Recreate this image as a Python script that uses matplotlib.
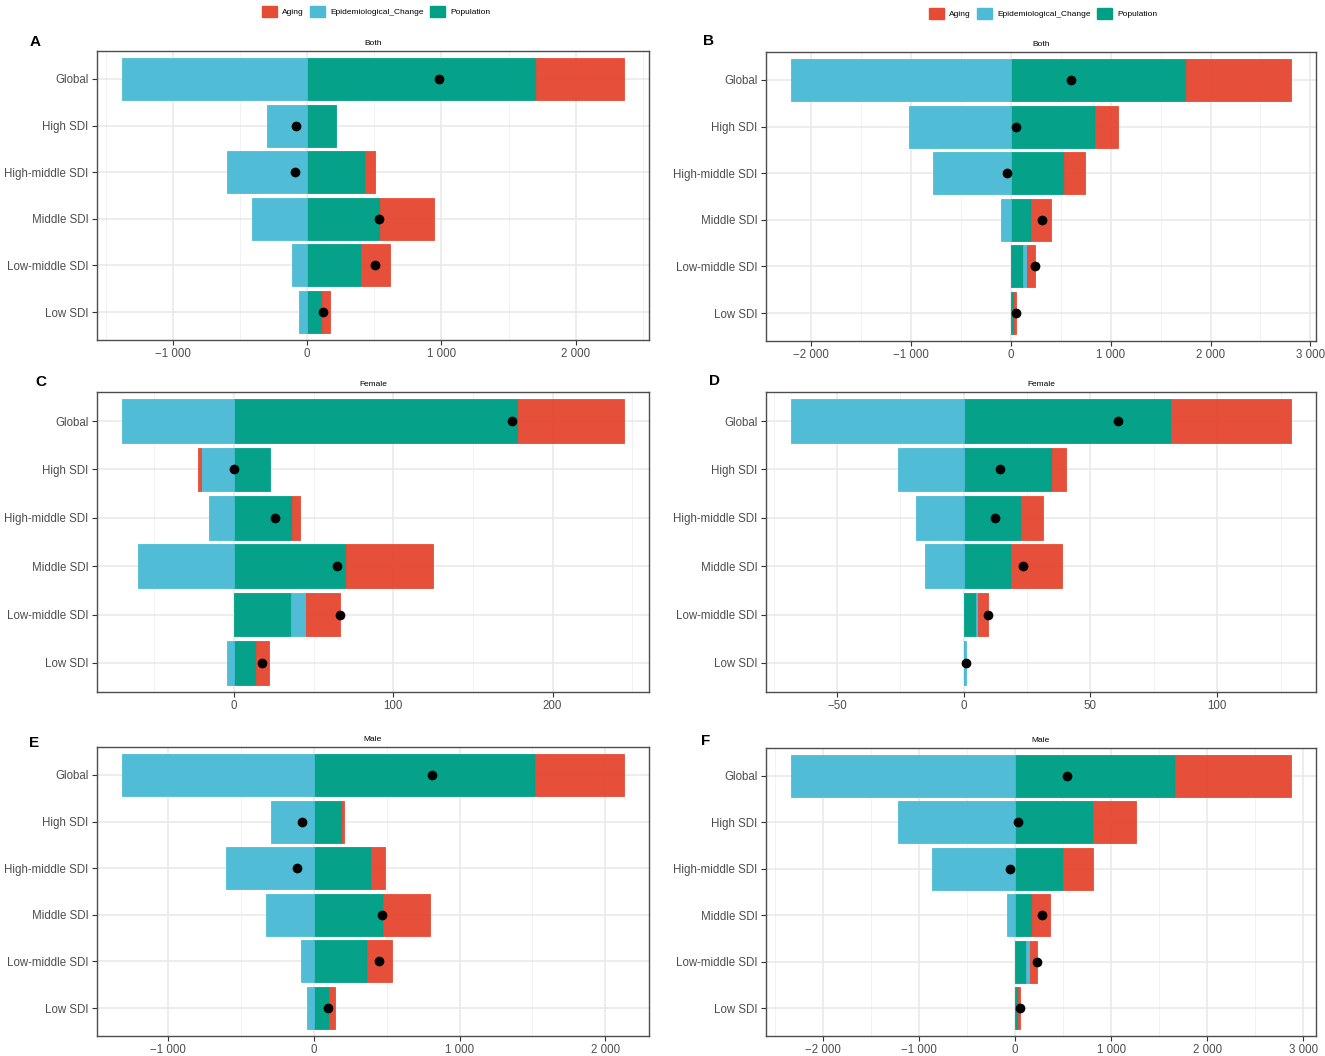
import numpy as np
import matplotlib
matplotlib.use("Agg")
import matplotlib.pyplot as plt
from matplotlib.patches import Patch
from matplotlib.ticker import MultipleLocator, FuncFormatter

plt.rcParams["font.family"] = ["Liberation Sans", "DejaVu Sans"]

regions = ["Global", "High SDI", "High-middle SDI", "Middle SDI", "Low-middle SDI", "Low SDI"]
factors = ["Aging", "Epidemiological_Change", "Population"]
colors = {"Aging": "#E64B35", "Epidemiological_Change": "#4DBBD5", "Population": "#00A087"}

# panel A: Both (left)
a_pop = [1704, 213, 428, 541, 403, 110]
a_epi = [-1377, -299, -594, -409, -110, -57]
a_aging = [654, 0, 75, 402, 216, 63]

# panel B: Both (right)
b_pop = [1759, 844, 527, 198, 122, 30]
b_epi = [-2203, -1021, -785, -97, 38, 0]
b_aging = [1047, 228, 216, 207, 85, 25]

# panel C: Female (left)
c_pop = [178.5, 22.8, 36.1, 70.6, 35.5, 13.5]
c_epi = [-70.3, -21.0, -15.6, -60.2, 9.6, -4.2]
c_aging = [66.3, -1.8, 5.0, 54.3, 21.5, 8.3]

# panel D: Female (right)
d_pop = [81.9, 35.0, 22.8, 18.6, 4.8, 0.3]
d_epi = [-68.1, -25.9, -18.8, -15.4, 0.8, 0.8]
d_aging = [47.2, 5.3, 8.5, 20.3, 3.8, 0.0]

# panel E: Male (left)
e_pop = [1519, 191, 394, 472, 365, 101]
e_epi = [-1316, -293, -603, -328, -90, -46]
e_aging = [609, 18, 96, 325, 171, 44]

# panel F: Male (right)
f_pop = [1667, 816, 504, 180, 118, 35]
f_epi = [-2333, -1224, -864, -79, 40, 0]
f_aging = [1206, 443, 307, 180, 74, 20]


def fmt(v, pos):
    s = f"{abs(v):,.0f}".replace(",", " ")
    return ("\u2212" + s) if v < 0 else s


def draw_panel(ax, pop, epi, aging, title, step):
    y = np.arange(len(regions))
    pos_left = np.zeros(len(regions))
    neg_left = np.zeros(len(regions))
    # ggplot stacking: Population nearest zero, then Epi, then Aging
    for name, vals in [("Population", pop), ("Epidemiological_Change", epi), ("Aging", aging)]:
        vals = np.array(vals, dtype=float)
        left = np.where(vals >= 0, pos_left, neg_left)
        keep = vals != 0
        ax.barh(y[keep], vals[keep], left=left[keep], height=0.9, color=colors[name],
                edgecolor=colors[name], linewidth=0.6, alpha=0.98, zorder=3)
        pos_left = pos_left + np.where(vals >= 0, vals, 0)
        neg_left = neg_left + np.where(vals < 0, vals, 0)
    total = np.array(pop) + np.array(epi) + np.array(aging)
    ax.plot(total, y, "o", color="black", markersize=6, zorder=4)

    lo = min(neg_left.min(), 0)
    hi = max(pos_left.max(), 0)
    pad = (hi - lo) * 0.05
    ax.set_xlim(lo - pad, hi + pad)
    ax.set_ylim(len(regions) - 0.4, -0.6)

    ax.set_yticks(y)
    ax.set_yticklabels(regions)
    ax.xaxis.set_major_locator(MultipleLocator(step))
    ax.xaxis.set_minor_locator(MultipleLocator(step / 2))
    ax.xaxis.set_major_formatter(FuncFormatter(fmt))
    ax.grid(True, which="major", color="#E8E8E8", linewidth=1.1, zorder=0)
    ax.grid(True, which="minor", axis="x", color="#F0F0F0", linewidth=0.6, zorder=0)
    ax.set_axisbelow(True)
    ax.tick_params(axis="both", which="major", labelsize=8.3, labelcolor="#4D4D4D",
                   color="#333333", length=3.5, width=0.8, pad=2.5)
    ax.tick_params(axis="x", which="minor", length=0)
    for sp in ax.spines.values():
        sp.set_color("#4D4D4D")
        sp.set_linewidth(1.0)
    ax.set_title(title, fontsize=6, pad=4)


W, H = 1325, 1056
fig = plt.figure(figsize=(W / 100, H / 100), dpi=100)


def add_ax(l, r, t, b):
    return fig.add_axes([l / W, 1 - b / H, (r - l) / W, (b - t) / H])


panels = [
    (add_ax(97, 649, 51, 340), a_pop, a_epi, a_aging, "Both", "A", 1000, (35, 42)),
    (add_ax(766, 1316, 52, 341), b_pop, b_epi, b_aging, "Both", "B", 1000, (709, 41)),
    (add_ax(97, 649, 392, 692), c_pop, c_epi, c_aging, "Female", "C", 100, (41, 382)),
    (add_ax(766, 1316, 392, 692), d_pop, d_epi, d_aging, "Female", "D", 50, (714, 381)),
    (add_ax(97, 649, 747, 1036), e_pop, e_epi, e_aging, "Male", "E", 1000, (34, 743)),
    (add_ax(766, 1316, 748, 1036), f_pop, f_epi, f_aging, "Male", "F", 1000, (706, 741)),
]
for ax, pop, epi, aging, title, letter, step, (lx, ly) in panels:
    draw_panel(ax, pop, epi, aging, title, step)
    fig.text(lx / W, 1 - ly / H, letter, fontsize=11, fontweight="bold",
             ha="center", va="center")

handles = [Patch(facecolor=colors[f], edgecolor=colors[f], label=f) for f in factors]
for cx, cy in [(376 / W, 1 - 4 / H), (1043 / W, 1 - 6 / H)]:
    fig.legend(handles=handles, loc="upper center", bbox_to_anchor=(cx, cy), ncol=3,
               frameon=False, fontsize=6, handlelength=1.8, handleheight=1.8,
               handletextpad=0.6, columnspacing=0.8, borderaxespad=0, borderpad=0.2)

fig.savefig("out.png", dpi=100)
